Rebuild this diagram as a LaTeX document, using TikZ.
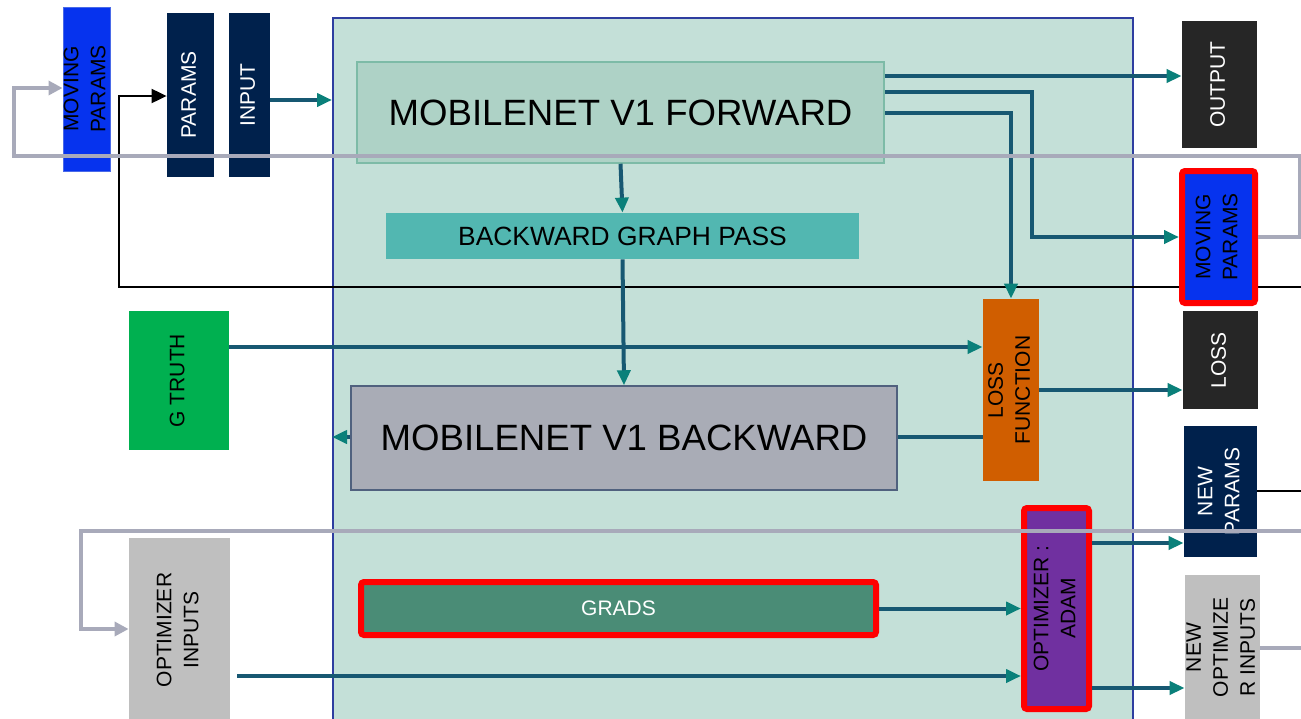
\documentclass[tikz,border=0pt]{standalone}
\usepackage{fontspec}
\setmainfont{Liberation Sans}
\usepackage{tikz}
\usetikzlibrary{arrows.meta}
\definecolor{graphbg}{HTML}{C4E0D8}
\definecolor{graphedge}{HTML}{2E3EA0}
\definecolor{fwdfill}{HTML}{AED2C6}
\definecolor{fwdedge}{HTML}{7DBBA7}
\definecolor{bgpfill}{HTML}{52B7B1}
\definecolor{bwdfill}{HTML}{A9ACB6}
\definecolor{bwdedge}{HTML}{50617E}
\definecolor{lossorange}{HTML}{D05E00}
\definecolor{optpurple}{HTML}{7030A0}
\definecolor{gradsfill}{HTML}{4A8C76}
\definecolor{gtgreen}{HTML}{00B050}
\definecolor{navy}{HTML}{00214C}
\definecolor{darkbox}{HTML}{262626}
\definecolor{mpblue}{HTML}{0633EE}
\definecolor{mpedge}{HTML}{4A6AE8}
\definecolor{loopgray}{HTML}{A8AABA}
\definecolor{lightbox}{HTML}{BFBFBF}
\definecolor{flowc}{HTML}{175872}
\definecolor{tipc}{HTML}{0A807A}
\pgfdeclarelayer{back}
\pgfsetlayers{back,main}
\newcommand{\vtext}[1]{\makebox[0pt]{\rotatebox{90}{\begin{tabular}{@{}c@{}}#1\end{tabular}}}}
\pgfkeys{tikz/vbox/.style={inner sep=0pt, font=\fontsize{10.5}{13.5}\selectfont}}
\pgfkeys{tikz/bigtext/.style={inner sep=0pt, font=\fontsize{18.3}{22}\selectfont}}
\pgfkeys{tikz/redframe/.style={draw=red, line width=3pt, rounded corners=1.5pt}}
\pgfkeys{tikz/flowplain/.style={line width=2pt, flowc}}
\pgfkeys{tikz/flowarrow/.style={flowplain, -{Triangle[length=7.5pt,width=6.5pt,color=tipc]}}}
\pgfkeys{tikz/grayloop/.style={line width=1.7pt, loopgray, -{Triangle[length=7pt,width=7pt]}}}
\pgfkeys{tikz/blackloop/.style={line width=1pt, black, -{Triangle[length=7.5pt,width=7pt]}}}

\begin{document}
\begin{tikzpicture}[x=0.5pt, y=-0.5pt]
                \useasboundingbox (0,0) rectangle (1301,718);
                \begin{pgfonlayer}{back}
                \fill[white] (0,0) rectangle (1301,718);
                \node[draw=graphedge, fill=graphbg, line width=1pt, minimum width=400pt, minimum height=356pt, inner sep=0pt] (graph) at (733,374) {};
                \end{pgfonlayer}

                \node[vbox, fill=mpblue, draw=mpedge, line width=0.5pt, minimum width=23.5pt, minimum height=82pt] (mpleft) at (86.5,89) {\vtext{MOVING\\PARAMS}};
                \node[vbox, fill=navy, text=white, minimum width=23.5pt, minimum height=82pt] (params) at (190.5,95) {\vtext{PARAMS}};
                \node[vbox, fill=navy, text=white, minimum width=20.5pt, minimum height=82pt] (input) at (249.5,95) {\vtext{INPUT}};

                \node[bigtext, fill=fwdfill, draw=fwdedge, line width=0.75pt, minimum width=263.5pt, minimum height=50.5pt] (fwd) at (620.5,112.5) {MOBILENET V1 FORWARD};
                \node[inner sep=0pt, fill=bgpfill, font=\fontsize{13.2}{16}\selectfont, minimum width=236.5pt, minimum height=23pt] (bgp) at (622.5,236) {BACKWARD GRAPH PASS};
                \node[bigtext, fill=bwdfill, draw=bwdedge, line width=0.75pt, minimum width=273pt, minimum height=52pt] (bwd) at (624,438) {MOBILENET V1 BACKWARD};
                \node[vbox, fill=lossorange, minimum width=28pt, minimum height=91pt] (lossfn) at (1011,390) {\vtext{LOSS\\FUNCTION}};
                \node[vbox, fill=gtgreen, minimum width=50pt, minimum height=69.5pt] (gtruth) at (179,380.5) {\vtext{G TRUTH}};

                \node[vbox, redframe, fill=gradsfill, text=white, minimum width=257.5pt, minimum height=26.5pt] (grads) at (618.5,608.5) {GRADS};
                \node[vbox, redframe, fill=optpurple, minimum width=32.5pt, minimum height=100.5pt] (opt) at (1056.5,608.5) {\vtext{OPTIMIZER :\\ADAM}};
                \node[vbox, fill=lightbox, minimum width=50.5pt, minimum height=92pt] (optin) at (179.5,630) {\vtext{OPTIMIZER\\INPUTS}};

                \node[vbox, fill=darkbox, text=white, minimum width=37.5pt, minimum height=63.5pt] (output) at (1219.5,84.5) {\vtext{OUTPUT}};
                \node[vbox, redframe, fill=mpblue, minimum width=36.5pt, minimum height=66pt] (mpright) at (1218.5,237) {\vtext{MOVING\\PARAMS}};
                \node[vbox, fill=darkbox, text=white, minimum width=37.5pt, minimum height=49pt] (loss) at (1220.5,360) {\vtext{LOSS}};
                \node[vbox, fill=navy, text=white, minimum width=36.5pt, minimum height=65.5pt] (newparams) at (1220.5,491.5) {\vtext{NEW\\PARAMS}};
                \node[vbox, fill=lightbox, minimum width=37.5pt, minimum height=72.5pt] (newopt) at (1222.5,647.5) {\vtext{NEW\\OPTIMIZE\\R INPUTS}};

                \begin{pgfonlayer}{back}
                \draw[blackloop] (newparams.east |- 0,491) -- (1315,491) -- (1315,287) -- (119,287) -- (119,96) -- (params.west |- 0,96);
                \end{pgfonlayer}

                \draw[flowarrow] (input.east |- 0,100) -- (graph.west |- 0,100);
                \draw[flowarrow] (fwd.east |- 0,76) -- (output.west |- 0,76);
                \draw[flowarrow] (fwd.east |- 0,92) -| (1032,237) -- (mpright.west);
                \draw[flowarrow] (fwd.east |- 0,113) -| (lossfn.north);
                \draw[flowarrow] (fwd.south) -- (bgp.north);
                \draw[flowarrow] (bgp.south) -- (bwd.north);
                \draw[flowarrow] (gtruth.east |- 0,347) -- (lossfn.west |- 0,347);
                \draw[flowarrow] (lossfn.east |- 0,390) -- (loss.west |- 0,390);
                \draw[flowplain] (lossfn.west |- 0,437) -- (bwd.east |- 0,437);
                \draw[flowarrow] (bwd.west |- 0,437) -- (graph.west |- 0,437);
                \draw[flowarrow] (grads.east) -- (opt.west |- grads.east);
                \draw[flowarrow, shorten <=3.5pt] (optin.east |- 0,676) -- (opt.west |- 0,676);
                \draw[flowarrow] (opt.east |- 0,543) -- (newparams.west |- 0,543);
                \draw[flowarrow] (opt.east |- 0,688) -- (newopt.west |- 0,688);

                \draw[grayloop] (mpright.east) -- (1300,237) -- (1300,156) -- (14,156) -- (14,88) -- (mpleft.west |- 0,88);
                \draw[grayloop] (newopt.east |- 0,648) -- (1315,648) -- (1315,531) -- (81,531) -- (81,629) -- (optin.west |- 0,629);
\end{tikzpicture}
\end{document}
